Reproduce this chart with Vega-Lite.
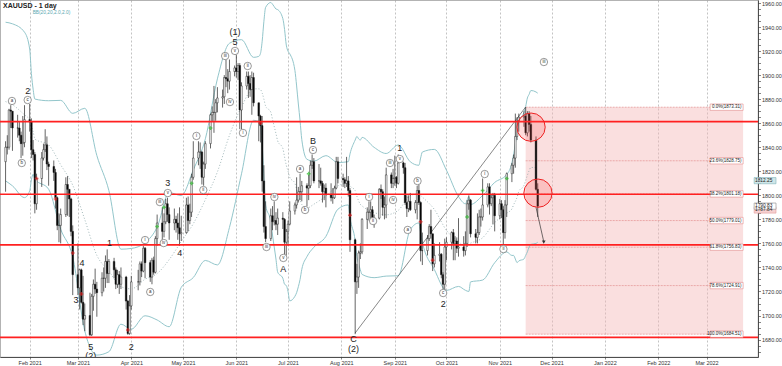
{
"$schema":"https://vega.github.io/schema/vega-lite/v6.json",
"width":758,"height":357,
"autosize":{"type":"none"},
"padding":{"left":0,"top":0,"right":24,"bottom":9},
"background":"white",
"title":{"text":"XAUUSD - 1 day","anchor":"start","frame":"group","offset":-9,"dx":3,"fontSize":7,"fontWeight":"bold","font":"Liberation Sans","color":"#222"},
"config":{"view":{"stroke":"#888","strokeWidth":0.8},"font":"Liberation Sans",
 "axisY":{"labelFontSize":5.5,"labelColor":"#333","labelFont":"Liberation Sans","labelPadding":1,"tickColor":"#333","tickWidth":0.6,"tickSize":2.5,"domainColor":"#333","domainWidth":0.8,"grid":false,"labelOverlap":false,"title":null},
 "axisX":{"labelFontSize":5.5,"labelColor":"#333","labelFont":"Liberation Sans","labelPadding":1,"labelOverlap":false,"labelFlush":false,"tickSize":2,"tickColor":"#333","tickWidth":0.6,"domainColor":"#333","domainWidth":0.8,"grid":false,"title":null}},
"datasets":{
"candles":[
{"d":"2021-01-18","o":1828,"h":1845,"l":1803,"c":1840},
{"d":"2021-01-19","o":1840,"h":1850,"l":1834,"c":1840},
{"d":"2021-01-20","o":1840,"h":1872,"l":1838,"c":1871},
{"d":"2021-01-21","o":1871,"h":1875,"l":1856,"c":1870},
{"d":"2021-01-22","o":1870,"h":1870,"l":1837,"c":1856},
{"d":"2021-01-25","o":1856,"h":1867,"l":1848,"c":1856},
{"d":"2021-01-26","o":1856,"h":1861,"l":1845,"c":1850},
{"d":"2021-01-27","o":1850,"h":1853,"l":1831,"c":1843},
{"d":"2021-01-28","o":1843,"h":1866,"l":1833,"c":1844},
{"d":"2021-01-29","o":1844,"h":1875,"l":1840,"c":1863},
{"d":"2021-02-01","o":1863,"h":1876,"l":1853,"c":1861},
{"d":"2021-02-02","o":1861,"h":1864,"l":1831,"c":1838},
{"d":"2021-02-03","o":1838,"h":1846,"l":1829,"c":1834},
{"d":"2021-02-04","o":1834,"h":1836,"l":1785,"c":1793},
{"d":"2021-02-05","o":1793,"h":1818,"l":1788,"c":1814},
{"d":"2021-02-08","o":1814,"h":1836,"l":1807,"c":1831},
{"d":"2021-02-09","o":1831,"h":1843,"l":1829,"c":1838},
{"d":"2021-02-10","o":1838,"h":1855,"l":1836,"c":1842},
{"d":"2021-02-11","o":1842,"h":1849,"l":1821,"c":1826},
{"d":"2021-02-12","o":1826,"h":1828,"l":1808,"c":1824},
{"d":"2021-02-15","o":1824,"h":1829,"l":1812,"c":1819},
{"d":"2021-02-16","o":1819,"h":1822,"l":1789,"c":1798},
{"d":"2021-02-17","o":1798,"h":1799,"l":1771,"c":1775},
{"d":"2021-02-18","o":1775,"h":1785,"l":1761,"c":1775},
{"d":"2021-02-19","o":1775,"h":1789,"l":1760,"c":1784},
{"d":"2021-02-22","o":1784,"h":1815,"l":1782,"c":1809},
{"d":"2021-02-23","o":1809,"h":1816,"l":1783,"c":1805},
{"d":"2021-02-24","o":1805,"h":1805,"l":1782,"c":1797},
{"d":"2021-02-25","o":1797,"h":1798,"l":1766,"c":1770},
{"d":"2021-02-26","o":1770,"h":1775,"l":1717,"c":1734},
{"d":"2021-03-01","o":1734,"h":1760,"l":1717,"c":1723},
{"d":"2021-03-02","o":1723,"h":1739,"l":1705,"c":1738},
{"d":"2021-03-03","o":1738,"h":1739,"l":1710,"c":1711},
{"d":"2021-03-04","o":1711,"h":1733,"l":1692,"c":1697},
{"d":"2021-03-05","o":1697,"h":1710,"l":1687,"c":1700},
{"d":"2021-03-08","o":1700,"h":1719,"l":1683,"c":1684},
{"d":"2021-03-09","o":1684,"h":1718,"l":1683,"c":1716},
{"d":"2021-03-10","o":1716,"h":1730,"l":1704,"c":1726},
{"d":"2021-03-11","o":1726,"h":1739,"l":1718,"c":1722},
{"d":"2021-03-12","o":1722,"h":1728,"l":1699,"c":1719},
{"d":"2021-03-15","o":1719,"h":1736,"l":1716,"c":1731},
{"d":"2021-03-16","o":1731,"h":1740,"l":1720,"c":1731},
{"d":"2021-03-17","o":1731,"h":1750,"l":1723,"c":1745},
{"d":"2021-03-18","o":1745,"h":1755,"l":1727,"c":1735},
{"d":"2021-03-19","o":1735,"h":1747,"l":1727,"c":1745},
{"d":"2021-03-22","o":1745,"h":1748,"l":1731,"c":1738},
{"d":"2021-03-23","o":1738,"h":1740,"l":1722,"c":1726},
{"d":"2021-03-24","o":1726,"h":1738,"l":1723,"c":1734},
{"d":"2021-03-25","o":1734,"h":1737,"l":1718,"c":1726},
{"d":"2021-03-26","o":1726,"h":1740,"l":1722,"c":1732},
{"d":"2021-03-29","o":1732,"h":1733,"l":1705,"c":1712},
{"d":"2021-03-30","o":1712,"h":1713,"l":1684,"c":1685},
{"d":"2021-03-31","o":1685,"h":1717,"l":1684,"c":1708},
{"d":"2021-04-01","o":1708,"h":1733,"l":1705,"c":1728},
{"d":"2021-04-05","o":1728,"h":1738,"l":1721,"c":1728},
{"d":"2021-04-06","o":1728,"h":1745,"l":1725,"c":1743},
{"d":"2021-04-07","o":1743,"h":1745,"l":1732,"c":1737},
{"d":"2021-04-08","o":1737,"h":1758,"l":1736,"c":1756},
{"d":"2021-04-09","o":1756,"h":1757,"l":1731,"c":1744},
{"d":"2021-04-12","o":1744,"h":1746,"l":1728,"c":1732},
{"d":"2021-04-13","o":1732,"h":1748,"l":1726,"c":1746},
{"d":"2021-04-14","o":1746,"h":1749,"l":1734,"c":1736},
{"d":"2021-04-15","o":1736,"h":1766,"l":1735,"c":1764},
{"d":"2021-04-16","o":1764,"h":1784,"l":1758,"c":1777},
{"d":"2021-04-19","o":1777,"h":1790,"l":1763,"c":1770},
{"d":"2021-04-20","o":1770,"h":1785,"l":1765,"c":1778},
{"d":"2021-04-21","o":1778,"h":1797,"l":1776,"c":1793},
{"d":"2021-04-22","o":1793,"h":1798,"l":1778,"c":1784},
{"d":"2021-04-23","o":1784,"h":1790,"l":1763,"c":1777},
{"d":"2021-04-26","o":1777,"h":1789,"l":1771,"c":1780},
{"d":"2021-04-27","o":1780,"h":1783,"l":1769,"c":1777},
{"d":"2021-04-28","o":1777,"h":1785,"l":1763,"c":1773},
{"d":"2021-04-29","o":1773,"h":1790,"l":1758,"c":1768},
{"d":"2021-04-30","o":1768,"h":1783,"l":1762,"c":1769},
{"d":"2021-05-03","o":1769,"h":1798,"l":1768,"c":1792},
{"d":"2021-05-04","o":1792,"h":1799,"l":1770,"c":1779},
{"d":"2021-05-05","o":1779,"h":1793,"l":1776,"c":1786},
{"d":"2021-05-06","o":1786,"h":1818,"l":1782,"c":1815},
{"d":"2021-05-07","o":1815,"h":1845,"l":1813,"c":1831},
{"d":"2021-05-10","o":1831,"h":1845,"l":1825,"c":1836},
{"d":"2021-05-11","o":1836,"h":1844,"l":1822,"c":1836},
{"d":"2021-05-12","o":1836,"h":1837,"l":1809,"c":1815},
{"d":"2021-05-13","o":1815,"h":1828,"l":1808,"c":1826},
{"d":"2021-05-14","o":1826,"h":1845,"l":1822,"c":1843},
{"d":"2021-05-17","o":1843,"h":1868,"l":1839,"c":1867},
{"d":"2021-05-18","o":1867,"h":1874,"l":1861,"c":1869},
{"d":"2021-05-19","o":1869,"h":1891,"l":1852,"c":1869},
{"d":"2021-05-20","o":1869,"h":1880,"l":1862,"c":1877},
{"d":"2021-05-21","o":1877,"h":1890,"l":1869,"c":1881},
{"d":"2021-05-24","o":1881,"h":1888,"l":1873,"c":1882},
{"d":"2021-05-25","o":1882,"h":1900,"l":1876,"c":1898},
{"d":"2021-05-26","o":1898,"h":1913,"l":1890,"c":1897},
{"d":"2021-05-27","o":1897,"h":1905,"l":1885,"c":1895},
{"d":"2021-05-28","o":1895,"h":1913,"l":1888,"c":1903},
{"d":"2021-05-31","o":1903,"h":1908,"l":1899,"c":1906},
{"d":"2021-06-01","o":1906,"h":1917,"l":1898,"c":1903},
{"d":"2021-06-02","o":1903,"h":1910,"l":1896,"c":1908},
{"d":"2021-06-03","o":1908,"h":1910,"l":1855,"c":1871},
{"d":"2021-06-04","o":1871,"h":1894,"l":1855,"c":1891},
{"d":"2021-06-07","o":1891,"h":1903,"l":1888,"c":1899},
{"d":"2021-06-08","o":1899,"h":1903,"l":1881,"c":1893},
{"d":"2021-06-09","o":1893,"h":1900,"l":1882,"c":1888},
{"d":"2021-06-10","o":1888,"h":1903,"l":1867,"c":1898},
{"d":"2021-06-11","o":1898,"h":1902,"l":1874,"c":1877},
{"d":"2021-06-14","o":1877,"h":1877,"l":1845,"c":1866},
{"d":"2021-06-15","o":1866,"h":1867,"l":1844,"c":1858},
{"d":"2021-06-16","o":1858,"h":1866,"l":1803,"c":1812},
{"d":"2021-06-17","o":1812,"h":1825,"l":1769,"c":1774},
{"d":"2021-06-18","o":1774,"h":1795,"l":1761,"c":1764},
{"d":"2021-06-21","o":1764,"h":1789,"l":1762,"c":1783},
{"d":"2021-06-22","o":1783,"h":1791,"l":1771,"c":1778},
{"d":"2021-06-23","o":1778,"h":1795,"l":1775,"c":1779},
{"d":"2021-06-24","o":1779,"h":1786,"l":1771,"c":1776},
{"d":"2021-06-25","o":1776,"h":1789,"l":1767,"c":1781},
{"d":"2021-06-28","o":1781,"h":1786,"l":1772,"c":1780},
{"d":"2021-06-29","o":1780,"h":1781,"l":1751,"c":1761},
{"d":"2021-06-30","o":1761,"h":1772,"l":1750,"c":1770},
{"d":"2021-07-01","o":1770,"h":1779,"l":1758,"c":1776},
{"d":"2021-07-02","o":1776,"h":1795,"l":1775,"c":1787},
{"d":"2021-07-05","o":1787,"h":1794,"l":1784,"c":1792},
{"d":"2021-07-06","o":1792,"h":1815,"l":1789,"c":1796},
{"d":"2021-07-07","o":1796,"h":1807,"l":1794,"c":1803},
{"d":"2021-07-08","o":1803,"h":1818,"l":1796,"c":1803},
{"d":"2021-07-09","o":1803,"h":1812,"l":1795,"c":1808},
{"d":"2021-07-12","o":1808,"h":1810,"l":1791,"c":1806},
{"d":"2021-07-13","o":1806,"h":1817,"l":1796,"c":1808},
{"d":"2021-07-14","o":1808,"h":1829,"l":1806,"c":1825},
{"d":"2021-07-15","o":1825,"h":1834,"l":1822,"c":1828},
{"d":"2021-07-16","o":1828,"h":1831,"l":1810,"c":1812},
{"d":"2021-07-19","o":1812,"h":1826,"l":1806,"c":1812},
{"d":"2021-07-20","o":1812,"h":1823,"l":1808,"c":1810},
{"d":"2021-07-21","o":1810,"h":1812,"l":1794,"c":1803},
{"d":"2021-07-22","o":1803,"h":1809,"l":1796,"c":1806},
{"d":"2021-07-23","o":1806,"h":1810,"l":1790,"c":1801},
{"d":"2021-07-26","o":1801,"h":1810,"l":1795,"c":1798},
{"d":"2021-07-27","o":1798,"h":1806,"l":1793,"c":1798},
{"d":"2021-07-28","o":1798,"h":1808,"l":1797,"c":1806},
{"d":"2021-07-29","o":1806,"h":1832,"l":1805,"c":1828},
{"d":"2021-07-30","o":1828,"h":1832,"l":1810,"c":1814},
{"d":"2021-08-02","o":1814,"h":1818,"l":1807,"c":1813},
{"d":"2021-08-03","o":1813,"h":1815,"l":1806,"c":1810},
{"d":"2021-08-04","o":1810,"h":1832,"l":1807,"c":1812},
{"d":"2021-08-05","o":1812,"h":1816,"l":1799,"c":1804},
{"d":"2021-08-06","o":1804,"h":1806,"l":1753,"c":1763},
{"d":"2021-08-09","o":1763,"h":1764,"l":1684.5,"c":1728},
{"d":"2021-08-10","o":1728,"h":1743,"l":1718,"c":1732},
{"d":"2021-08-11","o":1732,"h":1754,"l":1723,"c":1752},
{"d":"2021-08-12","o":1752,"h":1760,"l":1747,"c":1753},
{"d":"2021-08-13","o":1753,"h":1781,"l":1751,"c":1780},
{"d":"2021-08-16","o":1780,"h":1790,"l":1772,"c":1786},
{"d":"2021-08-17","o":1786,"h":1795,"l":1779,"c":1786},
{"d":"2021-08-18","o":1786,"h":1795,"l":1780,"c":1788},
{"d":"2021-08-19","o":1788,"h":1791,"l":1776,"c":1781},
{"d":"2021-08-20","o":1781,"h":1784,"l":1773,"c":1781},
{"d":"2021-08-23","o":1781,"h":1806,"l":1780,"c":1805},
{"d":"2021-08-24","o":1805,"h":1809,"l":1797,"c":1803},
{"d":"2021-08-25","o":1803,"h":1805,"l":1783,"c":1790},
{"d":"2021-08-26","o":1790,"h":1799,"l":1780,"c":1792},
{"d":"2021-08-27","o":1792,"h":1823,"l":1781,"c":1817},
{"d":"2021-08-30","o":1817,"h":1819,"l":1806,"c":1810},
{"d":"2021-08-31","o":1810,"h":1822,"l":1806,"c":1814},
{"d":"2021-09-01","o":1814,"h":1833,"l":1808,"c":1815},
{"d":"2021-09-02","o":1815,"h":1816,"l":1806,"c":1810},
{"d":"2021-09-03","o":1810,"h":1834,"l":1809,"c":1827},
{"d":"2021-09-06","o":1827,"h":1828,"l":1818,"c":1823},
{"d":"2021-09-07","o":1823,"h":1827,"l":1792,"c":1794},
{"d":"2021-09-08","o":1794,"h":1800,"l":1782,"c":1789},
{"d":"2021-09-09","o":1789,"h":1800,"l":1786,"c":1795},
{"d":"2021-09-10","o":1795,"h":1802,"l":1787,"c":1788},
{"d":"2021-09-13","o":1788,"h":1796,"l":1785,"c":1794},
{"d":"2021-09-14","o":1794,"h":1808,"l":1780,"c":1804},
{"d":"2021-09-15","o":1804,"h":1809,"l":1792,"c":1794},
{"d":"2021-09-16","o":1794,"h":1795,"l":1745,"c":1754},
{"d":"2021-09-17","o":1754,"h":1769,"l":1742,"c":1754},
{"d":"2021-09-20","o":1754,"h":1767,"l":1750,"c":1764},
{"d":"2021-09-21","o":1764,"h":1776,"l":1762,"c":1774},
{"d":"2021-09-22","o":1774,"h":1788,"l":1764,"c":1768},
{"d":"2021-09-23","o":1768,"h":1768,"l":1737,"c":1743},
{"d":"2021-09-24","o":1743,"h":1760,"l":1740,"c":1750},
{"d":"2021-09-27","o":1750,"h":1761,"l":1745,"c":1751},
{"d":"2021-09-28","o":1751,"h":1752,"l":1731,"c":1734},
{"d":"2021-09-29","o":1734,"h":1736,"l":1722,"c":1726},
{"d":"2021-09-30","o":1726,"h":1764,"l":1721,"c":1757},
{"d":"2021-10-01","o":1757,"h":1765,"l":1746,"c":1761},
{"d":"2021-10-04","o":1761,"h":1770,"l":1755,"c":1769},
{"d":"2021-10-05","o":1769,"h":1772,"l":1746,"c":1760},
{"d":"2021-10-06","o":1760,"h":1766,"l":1746,"c":1762},
{"d":"2021-10-07","o":1762,"h":1765,"l":1752,"c":1756},
{"d":"2021-10-08","o":1756,"h":1781,"l":1749,"c":1757},
{"d":"2021-10-11","o":1757,"h":1766,"l":1749,"c":1754},
{"d":"2021-10-12","o":1754,"h":1770,"l":1750,"c":1760},
{"d":"2021-10-13","o":1760,"h":1796,"l":1757,"c":1793},
{"d":"2021-10-14","o":1793,"h":1800,"l":1788,"c":1796},
{"d":"2021-10-15","o":1796,"h":1797,"l":1765,"c":1768},
{"d":"2021-10-18","o":1768,"h":1772,"l":1760,"c":1765},
{"d":"2021-10-19","o":1765,"h":1785,"l":1760,"c":1769},
{"d":"2021-10-20","o":1769,"h":1788,"l":1767,"c":1782},
{"d":"2021-10-21","o":1782,"h":1789,"l":1774,"c":1782},
{"d":"2021-10-22","o":1782,"h":1814,"l":1779,"c":1792},
{"d":"2021-10-25","o":1792,"h":1810,"l":1790,"c":1807},
{"d":"2021-10-26","o":1807,"h":1810,"l":1784,"c":1793},
{"d":"2021-10-27","o":1793,"h":1801,"l":1791,"c":1798},
{"d":"2021-10-28","o":1798,"h":1802,"l":1776,"c":1800},
{"d":"2021-10-29","o":1800,"h":1802,"l":1770,"c":1783},
{"d":"2021-11-01","o":1783,"h":1797,"l":1780,"c":1793},
{"d":"2021-11-02","o":1793,"h":1796,"l":1781,"c":1788},
{"d":"2021-11-03","o":1788,"h":1791,"l":1759,"c":1769},
{"d":"2021-11-04","o":1769,"h":1796,"l":1764,"c":1792},
{"d":"2021-11-05","o":1792,"h":1819,"l":1782,"c":1818},
{"d":"2021-11-08","o":1818,"h":1827,"l":1811,"c":1825},
{"d":"2021-11-09","o":1825,"h":1834,"l":1818,"c":1831},
{"d":"2021-11-10","o":1831,"h":1868,"l":1823,"c":1849},
{"d":"2021-11-11","o":1849,"h":1865,"l":1846,"c":1862},
{"d":"2021-11-12","o":1862,"h":1868,"l":1853,"c":1865},
{"d":"2021-11-15","o":1865,"h":1870,"l":1857,"c":1866},
{"d":"2021-11-16","o":1866,"h":1873.3,"l":1850,"c":1852},
{"d":"2021-11-17","o":1852,"h":1870,"l":1849,"c":1868},
{"d":"2021-11-18","o":1868,"h":1870,"l":1853,"c":1859},
{"d":"2021-11-19","o":1859,"h":1866,"l":1844,"c":1846},
{"d":"2021-11-22","o":1846,"h":1849,"l":1804,"c":1805},
{"d":"2021-11-23","o":1805,"h":1810,"l":1782,"c":1791}
],
"bb":[
{"d":"2021-01-18","up":1944,"mid":1878,"lo":1812},
{"d":"2021-01-22","up":1942.7,"mid":1875.3,"lo":1807.9},
{"d":"2021-01-29","up":1935.7,"mid":1866.9,"lo":1798.1},
{"d":"2021-02-01","up":1921.7,"mid":1862.7,"lo":1803.7},
{"d":"2021-02-02","up":1901.3,"mid":1857.1,"lo":1812.9},
{"d":"2021-02-03","up":1888.3,"mid":1852.9,"lo":1817.5},
{"d":"2021-02-04","up":1880.1,"mid":1846.9,"lo":1813.7},
{"d":"2021-02-12","up":1878.7,"mid":1841.9,"lo":1805.1},
{"d":"2021-02-19","up":1879,"mid":1825.4,"lo":1771.8},
{"d":"2021-02-26","up":1868.2,"mid":1808.4,"lo":1748.6},
{"d":"2021-03-05","up":1872.4,"mid":1779.8,"lo":1687.2},
{"d":"2021-03-12","up":1833.1,"mid":1750.1,"lo":1667.1},
{"d":"2021-03-19","up":1803.9,"mid":1736.9,"lo":1669.9},
{"d":"2021-03-26","up":1755.2,"mid":1724,"lo":1692.8},
{"d":"2021-04-01","up":1755.8,"mid":1722.2,"lo":1688.6},
{"d":"2021-04-09","up":1760.6,"mid":1730.2,"lo":1699.8},
{"d":"2021-04-16","up":1773.5,"mid":1734.9,"lo":1696.3},
{"d":"2021-04-23","up":1802.3,"mid":1746.5,"lo":1690.7},
{"d":"2021-04-30","up":1799.8,"mid":1761.6,"lo":1723.4},
{"d":"2021-05-07","up":1821.2,"mid":1776.4,"lo":1731.6},
{"d":"2021-05-14","up":1847,"mid":1796.4,"lo":1745.8},
{"d":"2021-05-21","up":1896.9,"mid":1819.5,"lo":1742.1},
{"d":"2021-05-28","up":1926.5,"mid":1849.9,"lo":1773.3},
{"d":"2021-06-04","up":1929.5,"mid":1873.7,"lo":1817.9},
{"d":"2021-06-11","up":1914.8,"mid":1888.6,"lo":1862.4},
{"d":"2021-06-14","up":1915.6,"mid":1888.6,"lo":1861.6},
{"d":"2021-06-15","up":1918,"mid":1888,"lo":1858},
{"d":"2021-06-16","up":1928.2,"mid":1885.2,"lo":1842.2},
{"d":"2021-06-17","up":1944.8,"mid":1880,"lo":1815.2},
{"d":"2021-06-18","up":1956.4,"mid":1874.2,"lo":1792},
{"d":"2021-06-21","up":1960.4,"mid":1869.2,"lo":1778},
{"d":"2021-06-22","up":1959,"mid":1863.2,"lo":1767},
{"d":"2021-06-23","up":1957,"mid":1857.3,"lo":1757},
{"d":"2021-06-24","up":1955,"mid":1851.4,"lo":1747},
{"d":"2021-06-25","up":1954.5,"mid":1845.3,"lo":1736.1},
{"d":"2021-06-28","up":1947,"mid":1839,"lo":1731},
{"d":"2021-06-29","up":1938,"mid":1831.9,"lo":1726},
{"d":"2021-06-30","up":1925,"mid":1825,"lo":1725},
{"d":"2021-07-01","up":1920,"mid":1820.2,"lo":1720},
{"d":"2021-07-02","up":1917.8,"mid":1815,"lo":1712.2},
{"d":"2021-07-05","up":1904,"mid":1810,"lo":1716},
{"d":"2021-07-06","up":1891,"mid":1805,"lo":1719},
{"d":"2021-07-07","up":1876,"mid":1800.4,"lo":1724},
{"d":"2021-07-08","up":1862,"mid":1796.2,"lo":1730},
{"d":"2021-07-09","up":1846.4,"mid":1792.4,"lo":1738.4},
{"d":"2021-07-12","up":1830,"mid":1789.4,"lo":1749},
{"d":"2021-07-16","up":1828.4,"mid":1792.6,"lo":1756.8},
{"d":"2021-07-23","up":1833,"mid":1799.4,"lo":1765.8},
{"d":"2021-07-30","up":1827.3,"mid":1807.9,"lo":1788.5},
{"d":"2021-08-05","up":1828,"mid":1810.1,"lo":1792},
{"d":"2021-08-06","up":1834.5,"mid":1807.9,"lo":1781.3},
{"d":"2021-08-09","up":1846,"mid":1803.9,"lo":1762},
{"d":"2021-08-10","up":1849,"mid":1799.2,"lo":1749},
{"d":"2021-08-11","up":1847,"mid":1795.4,"lo":1743},
{"d":"2021-08-12","up":1846,"mid":1792.5,"lo":1738},
{"d":"2021-08-13","up":1848.2,"mid":1791.2,"lo":1734.2},
{"d":"2021-08-20","up":1839.9,"mid":1785.7,"lo":1731.5},
{"d":"2021-08-27","up":1834.8,"mid":1783.8,"lo":1732.8},
{"d":"2021-09-03","up":1841.9,"mid":1787.5,"lo":1733.1},
{"d":"2021-09-10","up":1827.9,"mid":1799.7,"lo":1771.5},
{"d":"2021-09-15","up":1825,"mid":1801.3,"lo":1777},
{"d":"2021-09-16","up":1831,"mid":1800,"lo":1769},
{"d":"2021-09-17","up":1836,"mid":1798.6,"lo":1761.2},
{"d":"2021-09-24","up":1838.2,"mid":1788.2,"lo":1738.2},
{"d":"2021-10-01","up":1820.9,"mid":1770.9,"lo":1720.9},
{"d":"2021-10-08","up":1799,"mid":1761.6,"lo":1724.2},
{"d":"2021-10-12","up":1793,"mid":1757.4,"lo":1721},
{"d":"2021-10-14","up":1799,"mid":1759.5,"lo":1720},
{"d":"2021-10-15","up":1792.4,"mid":1760.2,"lo":1728},
{"d":"2021-10-22","up":1799.9,"mid":1764.7,"lo":1729.5},
{"d":"2021-10-29","up":1810.7,"mid":1777.3,"lo":1743.9},
{"d":"2021-11-05","up":1817.3,"mid":1785.1,"lo":1752.9},
{"d":"2021-11-08","up":1827,"mid":1788.7,"lo":1750},
{"d":"2021-11-09","up":1834,"mid":1792.2,"lo":1750},
{"d":"2021-11-10","up":1843,"mid":1795,"lo":1747},
{"d":"2021-11-11","up":1852,"mid":1798.3,"lo":1744},
{"d":"2021-11-12","up":1861,"mid":1803.2,"lo":1745.4},
{"d":"2021-11-15","up":1869,"mid":1808.2,"lo":1747},
{"d":"2021-11-16","up":1874,"mid":1812.4,"lo":1750},
{"d":"2021-11-17","up":1881,"mid":1816.7,"lo":1753},
{"d":"2021-11-18","up":1884,"mid":1820.5,"lo":1757},
{"d":"2021-11-19","up":1887.2,"mid":1823.2,"lo":1759.2},
{"d":"2021-11-22","up":1886,"mid":1823.1,"lo":1760},
{"d":"2021-11-23","up":1885,"mid":1823,"lo":1761}
],
"levels":[{"p":1861.3},{"p":1800.9},{"p":1758.7},{"p":1681.9}],
"fib":[
{"p":1873.31,"t":"0.0%(1873.31)"},
{"p":1828.75,"t":"23.6%(1828.75)"},
{"p":1801.18,"t":"38.2%(1801.18)"},
{"p":1779.01,"t":"50.0%(1779.01)"},
{"p":1756.83,"t":"61.8%(1756.83)"},
{"p":1724.91,"t":"78.6%(1724.91)"},
{"p":1684.51,"t":"100.0%(1684.51)"}
],
"zone":[{"top":1873.31,"bottom":1684.51}],
"trend":[{"d":"2021-08-09","p":1685.5},{"d":"2021-11-16","p":1873.5}],
"arrow":[{"d":"2021-11-22T00:00:00Z","p":1790},{"d":"2021-11-26T10:00:00Z","p":1762}],
"arrowhead":[{"d":"2021-11-26T12:00:00Z","p":1761}],
"marks":[
{"d":"2021-02-05","p":1814,"k":"down"},{"d":"2021-02-16","p":1797,"k":"down"},{"d":"2021-02-26","p":1752,"k":"down"},
{"d":"2021-03-03","p":1718,"k":"down"},{"d":"2021-03-30","p":1688,"k":"down"},{"d":"2021-04-16","p":1774,"k":"up"},
{"d":"2021-04-20","p":1790,"k":"up"},{"d":"2021-05-06","p":1810,"k":"up"},{"d":"2021-05-17","p":1856,"k":"up"},
{"d":"2021-06-15","p":1860,"k":"down"},{"d":"2021-07-13","p":1818,"k":"up"},{"d":"2021-08-06","p":1783.5,"k":"down"},
{"d":"2021-09-16","p":1778,"k":"down"},{"d":"2021-09-23","p":1746,"k":"down"},{"d":"2021-10-13","p":1782,"k":"up"},
{"d":"2021-10-22","p":1804,"k":"up"},{"d":"2021-11-05","p":1814,"k":"up"}
],
"rings":[{"d":"2021-11-19T03:00:00Z","p":1856.7},{"d":"2021-11-23T03:00:00Z","p":1801.8}],
"circ":[
{"d":"2021-01-21T17:00:00Z","p":1878.5,"t":"a"},
{"d":"2021-01-30T20:00:00Z","p":1879.3,"t":"c"},
{"d":"2021-01-27T10:00:00Z","p":1826.9,"t":"b"},
{"d":"2021-04-09T00:00:00Z","p":1762.8,"t":"i"},
{"d":"2021-04-12T00:00:00Z","p":1719.6,"t":"a"},
{"d":"2021-04-17T14:00:00Z","p":1794.4,"t":"iii"},
{"d":"2021-04-19T20:00:00Z","p":1760.3,"t":"iv"},
{"d":"2021-04-22T05:00:00Z","p":1801.9,"t":"v"},
{"d":"2021-05-08T20:00:00Z","p":1849.4,"t":"i"},
{"d":"2021-05-12T20:00:00Z","p":1804.4,"t":"ii"},
{"d":"2021-05-25T12:00:00Z","p":1915.9,"t":"iii"},
{"d":"2021-05-28T07:00:00Z","p":1877.6,"t":"iv"},
{"d":"2021-05-31T05:00:00Z","p":1920.1,"t":"v"},
{"d":"2021-06-04T20:00:00Z","p":1851.9,"t":"i"},
{"d":"2021-06-07T14:00:00Z","p":1907.6,"t":"ii"},
{"d":"2021-06-18T12:00:00Z","p":1757,"t":"iii"},
{"d":"2021-06-23T02:00:00Z","p":1798.6,"t":"iv"},
{"d":"2021-06-28T07:00:00Z","p":1747.9,"t":"v"},
{"d":"2021-07-08T00:00:00Z","p":1821.9,"t":"a"},
{"d":"2021-07-10T22:00:00Z","p":1787.8,"t":"b"},
{"d":"2021-07-15T12:00:00Z","p":1837.7,"t":"c"},
{"d":"2021-08-17T02:00:00Z","p":1798.6,"t":"i"},
{"d":"2021-08-19T10:00:00Z","p":1778.6,"t":"ii"},
{"d":"2021-08-29T05:00:00Z","p":1826.9,"t":"iii"},
{"d":"2021-08-31T00:00:00Z","p":1796.1,"t":"iv"},
{"d":"2021-09-03T22:00:00Z","p":1830.2,"t":"v"},
{"d":"2021-09-08T12:00:00Z","p":1771.2,"t":"a"},
{"d":"2021-09-14T05:00:00Z","p":1811.9,"t":"b"},
{"d":"2021-09-29T02:00:00Z","p":1718.7,"t":"c"},
{"d":"2021-10-23T05:00:00Z","p":1817.7,"t":"i"},
{"d":"2021-11-03T02:00:00Z","p":1755.3,"t":"ii"},
{"d":"2021-11-26T14:00:00Z","p":1910.9,"t":"iii"}
],
"plain":[
{"d":"2021-01-30T20:00:00Z","p":1886.8,"t":"2"},
{"d":"2021-02-27T22:00:00Z","p":1712.9,"t":"3"},
{"d":"2021-03-03T10:00:00Z","p":1743.7,"t":"4"},
{"d":"2021-03-08T12:00:00Z","p":1674,"t":"5"},
{"d":"2021-03-08T12:00:00Z","p":1666.5,"t":"(2)"},
{"d":"2021-03-19T10:00:00Z","p":1760.3,"t":"1"},
{"d":"2021-04-01T00:00:00Z","p":1673.8,"t":"2"},
{"d":"2021-04-22T05:00:00Z","p":1810.3,"t":"3"},
{"d":"2021-04-29T02:00:00Z","p":1752,"t":"4"},
{"d":"2021-05-31T05:00:00Z","p":1927.6,"t":"5"},
{"d":"2021-05-31T05:00:00Z","p":1935.9,"t":"(1)"},
{"d":"2021-06-28T07:00:00Z","p":1738.7,"t":"A"},
{"d":"2021-07-15T12:00:00Z","p":1845.2,"t":"B"},
{"d":"2021-08-08T00:00:00Z","p":1680.5,"t":"C"},
{"d":"2021-08-08T00:00:00Z","p":1672.1,"t":"(2)"},
{"d":"2021-09-03T22:00:00Z","p":1839.4,"t":"1"},
{"d":"2021-09-29T02:00:00Z","p":1709.6,"t":"2"}
],
"bblabel":[{"d":"2021-02-02T17:00:00Z","p":1951.7,"t":"BB(20,20,2.0,2.0)"}],
"tags":[
{"p":1812.2,"t":"1812.25","k":"teal"},
{"p":1787.8,"t":"1787.84","k":"pink"},
{"p":1791.0,"t":"1790.83","k":"white"}
]
},
"layer":[
{"data":{"name":"zone"},"mark":{"type":"rect","color":"#f3b9b9","opacity":0.45},
 "encoding":{
  "x":{"datum":{"year":2021,"month":11,"date":16,"utc":true},"type":"temporal","title":null,
   "scale":{"type":"utc","domain":[{"year":2021,"month":1,"date":17,"hours":16,"utc":true},{"year":2022,"month":3,"date":28,"utc":true}]},
   "axis":{"values":[{"year":2021,"month":2,"date":1,"utc":true},{"year":2021,"month":3,"date":1,"utc":true},{"year":2021,"month":4,"date":1,"utc":true},{"year":2021,"month":5,"date":1,"utc":true},{"year":2021,"month":6,"date":1,"utc":true},{"year":2021,"month":7,"date":1,"utc":true},{"year":2021,"month":8,"date":1,"utc":true},{"year":2021,"month":9,"date":1,"utc":true},{"year":2021,"month":10,"date":1,"utc":true},{"year":2021,"month":11,"date":1,"utc":true},{"year":2021,"month":12,"date":1,"utc":true},{"year":2022,"month":1,"date":1,"utc":true},{"year":2022,"month":2,"date":1,"utc":true},{"year":2022,"month":3,"date":1,"utc":true}],
    "format":"%b %Y","grid":true,"gridDash":[2,2],"gridColor":"#9a9a9a","gridWidth":0.6}},
  "x2":{"datum":{"year":2022,"month":3,"date":22,"hours":6,"utc":true}},
  "y":{"field":"top","type":"quantitative","title":null,
   "scale":{"domain":[1665.5,1962.5],"nice":false,"zero":false},
   "axis":{"orient":"right","values":[1670,1675,1680,1685,1690,1695,1700,1705,1710,1715,1720,1725,1730,1735,1740,1745,1750,1755,1760,1765,1770,1775,1780,1785,1790,1795,1800,1805,1810,1815,1820,1825,1830,1835,1840,1845,1850,1855,1860,1865,1870,1875,1880,1885,1890,1895,1900,1905,1910,1915,1920,1925,1930,1935,1940,1945,1950,1955,1960],"labelExpr":"datum.value % 20 === 0 ? format(datum.value, '.2f') : ''"}},
  "y2":{"field":"bottom"}}},
{"mark":{"type":"rect","color":"#ee2a2a"},
 "encoding":{"x":{"datum":{"year":2022,"month":2,"date":28,"utc":true},"type":"temporal","title":null},"x2":{"datum":{"year":2022,"month":3,"date":28,"utc":true}},"y":{"datum":1962.5,"type":"quantitative","title":null,"axis":{"orient":"right","values":[1670,1675,1680,1685,1690,1695,1700,1705,1710,1715,1720,1725,1730,1735,1740,1745,1750,1755,1760,1765,1770,1775,1780,1785,1790,1795,1800,1805,1810,1815,1820,1825,1830,1835,1840,1845,1850,1855,1860,1865,1870,1875,1880,1885,1890,1895,1900,1905,1910,1915,1920,1925,1930,1935,1940,1945,1950,1955,1960],"labelExpr":"datum.value % 20 === 0 ? format(datum.value, '.2f') : ''"}},"y2":{"datum":1921.7}}},
{"mark":{"type":"text","text":"FxPro","font":"Liberation Serif","fontSize":14,"color":"#ffffff","align":"center","baseline":"middle"},
 "encoding":{"x":{"datum":{"year":2022,"month":3,"date":13,"hours":16,"utc":true},"type":"temporal","title":null},"y":{"datum":1944,"type":"quantitative","title":null,"axis":{"orient":"right","values":[1670,1675,1680,1685,1690,1695,1700,1705,1710,1715,1720,1725,1730,1735,1740,1745,1750,1755,1760,1765,1770,1775,1780,1785,1790,1795,1800,1805,1810,1815,1820,1825,1830,1835,1840,1845,1850,1855,1860,1865,1870,1875,1880,1885,1890,1895,1900,1905,1910,1915,1920,1925,1930,1935,1940,1945,1950,1955,1960],"labelExpr":"datum.value % 20 === 0 ? format(datum.value, '.2f') : ''"}}}},
{"mark":{"type":"text","text":"Trade Like a Pro","font":"Liberation Sans","fontSize":4.6,"color":"#ffffff","align":"center","baseline":"middle"},
 "encoding":{"x":{"datum":{"year":2022,"month":3,"date":13,"hours":16,"utc":true},"type":"temporal","title":null},"y":{"datum":1936.5,"type":"quantitative","title":null,"axis":{"orient":"right","values":[1670,1675,1680,1685,1690,1695,1700,1705,1710,1715,1720,1725,1730,1735,1740,1745,1750,1755,1760,1765,1770,1775,1780,1785,1790,1795,1800,1805,1810,1815,1820,1825,1830,1835,1840,1845,1850,1855,1860,1865,1870,1875,1880,1885,1890,1895,1900,1905,1910,1915,1920,1925,1930,1935,1940,1945,1950,1955,1960],"labelExpr":"datum.value % 20 === 0 ? format(datum.value, '.2f') : ''"}}}},
{"data":{"name":"fib"},"mark":{"type":"rule","color":"#e69a9a","strokeDash":[2,1],"strokeWidth":0.8},
 "encoding":{"x":{"datum":{"year":2021,"month":11,"date":16,"utc":true},"type":"temporal","title":null},"x2":{"datum":{"year":2022,"month":3,"date":22,"hours":6,"utc":true}},"y":{"field":"p","type":"quantitative","title":null,"axis":{"orient":"right","values":[1670,1675,1680,1685,1690,1695,1700,1705,1710,1715,1720,1725,1730,1735,1740,1745,1750,1755,1760,1765,1770,1775,1780,1785,1790,1795,1800,1805,1810,1815,1820,1825,1830,1835,1840,1845,1850,1855,1860,1865,1870,1875,1880,1885,1890,1895,1900,1905,1910,1915,1920,1925,1930,1935,1940,1945,1950,1955,1960],"labelExpr":"datum.value % 20 === 0 ? format(datum.value, '.2f') : ''"}}}},
{"data":{"name":"bb"},"mark":{"type":"line","color":"#93c6cb","strokeWidth":1,"interpolate":"monotone","clip":true},
 "encoding":{"x":{"field":"d","type":"temporal","title":null},"y":{"field":"up","type":"quantitative","title":null,"axis":{"orient":"right","values":[1670,1675,1680,1685,1690,1695,1700,1705,1710,1715,1720,1725,1730,1735,1740,1745,1750,1755,1760,1765,1770,1775,1780,1785,1790,1795,1800,1805,1810,1815,1820,1825,1830,1835,1840,1845,1850,1855,1860,1865,1870,1875,1880,1885,1890,1895,1900,1905,1910,1915,1920,1925,1930,1935,1940,1945,1950,1955,1960],"labelExpr":"datum.value % 20 === 0 ? format(datum.value, '.2f') : ''"}}}},
{"data":{"name":"bb"},"mark":{"type":"line","color":"#93c6cb","strokeWidth":1,"interpolate":"monotone","clip":true},
 "encoding":{"x":{"field":"d","type":"temporal","title":null},"y":{"field":"lo","type":"quantitative","title":null,"axis":{"orient":"right","values":[1670,1675,1680,1685,1690,1695,1700,1705,1710,1715,1720,1725,1730,1735,1740,1745,1750,1755,1760,1765,1770,1775,1780,1785,1790,1795,1800,1805,1810,1815,1820,1825,1830,1835,1840,1845,1850,1855,1860,1865,1870,1875,1880,1885,1890,1895,1900,1905,1910,1915,1920,1925,1930,1935,1940,1945,1950,1955,1960],"labelExpr":"datum.value % 20 === 0 ? format(datum.value, '.2f') : ''"}}}},
{"data":{"name":"bb"},"mark":{"type":"line","color":"#8aa6a8","strokeWidth":0.8,"strokeDash":[1,2],"interpolate":"monotone","clip":true},
 "encoding":{"x":{"field":"d","type":"temporal","title":null},"y":{"field":"mid","type":"quantitative","title":null,"axis":{"orient":"right","values":[1670,1675,1680,1685,1690,1695,1700,1705,1710,1715,1720,1725,1730,1735,1740,1745,1750,1755,1760,1765,1770,1775,1780,1785,1790,1795,1800,1805,1810,1815,1820,1825,1830,1835,1840,1845,1850,1855,1860,1865,1870,1875,1880,1885,1890,1895,1900,1905,1910,1915,1920,1925,1930,1935,1940,1945,1950,1955,1960],"labelExpr":"datum.value % 20 === 0 ? format(datum.value, '.2f') : ''"}}}},
{"data":{"name":"trend"},"mark":{"type":"line","color":"#555","strokeWidth":0.7},
 "encoding":{"x":{"field":"d","type":"temporal","title":null},"y":{"field":"p","type":"quantitative","title":null,"axis":{"orient":"right","values":[1670,1675,1680,1685,1690,1695,1700,1705,1710,1715,1720,1725,1730,1735,1740,1745,1750,1755,1760,1765,1770,1775,1780,1785,1790,1795,1800,1805,1810,1815,1820,1825,1830,1835,1840,1845,1850,1855,1860,1865,1870,1875,1880,1885,1890,1895,1900,1905,1910,1915,1920,1925,1930,1935,1940,1945,1950,1955,1960],"labelExpr":"datum.value % 20 === 0 ? format(datum.value, '.2f') : ''"}}}},
{"data":{"name":"candles"},"mark":{"type":"rule","color":"#222","strokeWidth":0.7},
 "encoding":{"x":{"field":"d","type":"temporal","title":null},"y":{"field":"l","type":"quantitative","title":null,"axis":{"orient":"right","values":[1670,1675,1680,1685,1690,1695,1700,1705,1710,1715,1720,1725,1730,1735,1740,1745,1750,1755,1760,1765,1770,1775,1780,1785,1790,1795,1800,1805,1810,1815,1820,1825,1830,1835,1840,1845,1850,1855,1860,1865,1870,1875,1880,1885,1890,1895,1900,1905,1910,1915,1920,1925,1930,1935,1940,1945,1950,1955,1960],"labelExpr":"datum.value % 20 === 0 ? format(datum.value, '.2f') : ''"}},"y2":{"field":"h"}}},
{"data":{"name":"candles"},"mark":{"type":"bar","size":1.6,"stroke":"#222","strokeWidth":0.5},
 "encoding":{"x":{"field":"d","type":"temporal","title":null},"y":{"field":"o","type":"quantitative","title":null,"axis":{"orient":"right","values":[1670,1675,1680,1685,1690,1695,1700,1705,1710,1715,1720,1725,1730,1735,1740,1745,1750,1755,1760,1765,1770,1775,1780,1785,1790,1795,1800,1805,1810,1815,1820,1825,1830,1835,1840,1845,1850,1855,1860,1865,1870,1875,1880,1885,1890,1895,1900,1905,1910,1915,1920,1925,1930,1935,1940,1945,1950,1955,1960],"labelExpr":"datum.value % 20 === 0 ? format(datum.value, '.2f') : ''"}},"y2":{"field":"c"},
  "fill":{"condition":{"test":"datum.c >= datum.o","value":"#ffffff"},"value":"#000000"}}},
{"data":{"name":"levels"},"mark":{"type":"rule","color":"#ff2020","strokeWidth":1.7},
 "encoding":{"y":{"field":"p","type":"quantitative","title":null,"axis":{"orient":"right","values":[1670,1675,1680,1685,1690,1695,1700,1705,1710,1715,1720,1725,1730,1735,1740,1745,1750,1755,1760,1765,1770,1775,1780,1785,1790,1795,1800,1805,1810,1815,1820,1825,1830,1835,1840,1845,1850,1855,1860,1865,1870,1875,1880,1885,1890,1895,1900,1905,1910,1915,1920,1925,1930,1935,1940,1945,1950,1955,1960],"labelExpr":"datum.value % 20 === 0 ? format(datum.value, '.2f') : ''"}}}},
{"data":{"name":"marks"},"mark":{"type":"point","shape":"cross","filled":true,"size":14},
 "encoding":{"x":{"field":"d","type":"temporal","title":null},"y":{"field":"p","type":"quantitative","title":null,"axis":{"orient":"right","values":[1670,1675,1680,1685,1690,1695,1700,1705,1710,1715,1720,1725,1730,1735,1740,1745,1750,1755,1760,1765,1770,1775,1780,1785,1790,1795,1800,1805,1810,1815,1820,1825,1830,1835,1840,1845,1850,1855,1860,1865,1870,1875,1880,1885,1890,1895,1900,1905,1910,1915,1920,1925,1930,1935,1940,1945,1950,1955,1960],"labelExpr":"datum.value % 20 === 0 ? format(datum.value, '.2f') : ''"}},
  "color":{"field":"k","type":"nominal","scale":{"domain":["up","down"],"range":["#2bb82b","#e02020"]},"legend":null}}},
{"data":{"name":"rings"},"mark":{"type":"point","shape":"circle","size":800,"filled":true,"fill":"#ff4d4d","fillOpacity":0.2,"stroke":"#ee2222","strokeWidth":1,"strokeOpacity":1},
 "encoding":{"x":{"field":"d","type":"temporal","title":null},"y":{"field":"p","type":"quantitative","title":null,"axis":{"orient":"right","values":[1670,1675,1680,1685,1690,1695,1700,1705,1710,1715,1720,1725,1730,1735,1740,1745,1750,1755,1760,1765,1770,1775,1780,1785,1790,1795,1800,1805,1810,1815,1820,1825,1830,1835,1840,1845,1850,1855,1860,1865,1870,1875,1880,1885,1890,1895,1900,1905,1910,1915,1920,1925,1930,1935,1940,1945,1950,1955,1960],"labelExpr":"datum.value % 20 === 0 ? format(datum.value, '.2f') : ''"}}}},
{"data":{"name":"circ"},"mark":{"type":"point","shape":"circle","size":55,"filled":true,"fill":"#ffffff","stroke":"#555","strokeWidth":0.6,"opacity":1},
 "encoding":{"x":{"field":"d","type":"temporal","title":null},"y":{"field":"p","type":"quantitative","title":null,"axis":{"orient":"right","values":[1670,1675,1680,1685,1690,1695,1700,1705,1710,1715,1720,1725,1730,1735,1740,1745,1750,1755,1760,1765,1770,1775,1780,1785,1790,1795,1800,1805,1810,1815,1820,1825,1830,1835,1840,1845,1850,1855,1860,1865,1870,1875,1880,1885,1890,1895,1900,1905,1910,1915,1920,1925,1930,1935,1940,1945,1950,1955,1960],"labelExpr":"datum.value % 20 === 0 ? format(datum.value, '.2f') : ''"}}}},
{"data":{"name":"circ"},"mark":{"type":"text","fontSize":4.5,"color":"#333","baseline":"middle","align":"center","font":"Liberation Sans"},
 "encoding":{"x":{"field":"d","type":"temporal","title":null},"y":{"field":"p","type":"quantitative","title":null,"axis":{"orient":"right","values":[1670,1675,1680,1685,1690,1695,1700,1705,1710,1715,1720,1725,1730,1735,1740,1745,1750,1755,1760,1765,1770,1775,1780,1785,1790,1795,1800,1805,1810,1815,1820,1825,1830,1835,1840,1845,1850,1855,1860,1865,1870,1875,1880,1885,1890,1895,1900,1905,1910,1915,1920,1925,1930,1935,1940,1945,1950,1955,1960],"labelExpr":"datum.value % 20 === 0 ? format(datum.value, '.2f') : ''"}},"text":{"field":"t"}}},
{"data":{"name":"plain"},"mark":{"type":"text","fontSize":9,"color":"#222","baseline":"middle","align":"center","font":"Liberation Sans","clip":true},
 "encoding":{"x":{"field":"d","type":"temporal","title":null},"y":{"field":"p","type":"quantitative","title":null,"axis":{"orient":"right","values":[1670,1675,1680,1685,1690,1695,1700,1705,1710,1715,1720,1725,1730,1735,1740,1745,1750,1755,1760,1765,1770,1775,1780,1785,1790,1795,1800,1805,1810,1815,1820,1825,1830,1835,1840,1845,1850,1855,1860,1865,1870,1875,1880,1885,1890,1895,1900,1905,1910,1915,1920,1925,1930,1935,1940,1945,1950,1955,1960],"labelExpr":"datum.value % 20 === 0 ? format(datum.value, '.2f') : ''"}},"text":{"field":"t"}}},
{"data":{"name":"bblabel"},"mark":{"type":"text","fontSize":4.8,"color":"#5aa8b0","baseline":"middle","align":"left","font":"Liberation Sans"},
 "encoding":{"x":{"field":"d","type":"temporal","title":null},"y":{"field":"p","type":"quantitative","title":null,"axis":{"orient":"right","values":[1670,1675,1680,1685,1690,1695,1700,1705,1710,1715,1720,1725,1730,1735,1740,1745,1750,1755,1760,1765,1770,1775,1780,1785,1790,1795,1800,1805,1810,1815,1820,1825,1830,1835,1840,1845,1850,1855,1860,1865,1870,1875,1880,1885,1890,1895,1900,1905,1910,1915,1920,1925,1930,1935,1940,1945,1950,1955,1960],"labelExpr":"datum.value % 20 === 0 ? format(datum.value, '.2f') : ''"}},"text":{"field":"t"}}},
{"data":{"name":"arrow"},"mark":{"type":"line","color":"#333","strokeWidth":0.7},
 "encoding":{"x":{"field":"d","type":"temporal","title":null},"y":{"field":"p","type":"quantitative","title":null,"axis":{"orient":"right","values":[1670,1675,1680,1685,1690,1695,1700,1705,1710,1715,1720,1725,1730,1735,1740,1745,1750,1755,1760,1765,1770,1775,1780,1785,1790,1795,1800,1805,1810,1815,1820,1825,1830,1835,1840,1845,1850,1855,1860,1865,1870,1875,1880,1885,1890,1895,1900,1905,1910,1915,1920,1925,1930,1935,1940,1945,1950,1955,1960],"labelExpr":"datum.value % 20 === 0 ? format(datum.value, '.2f') : ''"}}}},
{"data":{"name":"arrowhead"},"mark":{"type":"point","shape":"triangle-down","size":14,"filled":true,"color":"#333","opacity":1},
 "encoding":{"x":{"field":"d","type":"temporal","title":null},"y":{"field":"p","type":"quantitative","title":null,"axis":{"orient":"right","values":[1670,1675,1680,1685,1690,1695,1700,1705,1710,1715,1720,1725,1730,1735,1740,1745,1750,1755,1760,1765,1770,1775,1780,1785,1790,1795,1800,1805,1810,1815,1820,1825,1830,1835,1840,1845,1850,1855,1860,1865,1870,1875,1880,1885,1890,1895,1900,1905,1910,1915,1920,1925,1930,1935,1940,1945,1950,1955,1960],"labelExpr":"datum.value % 20 === 0 ? format(datum.value, '.2f') : ''"}}}},
{"data":{"name":"fib"},"mark":{"type":"point","shape":"M-2.06,-0.2H0V0.2H-2.06Z","size":1024,"filled":true,"fill":"#ffffff","stroke":"#e38b8b","strokeWidth":0.6,"opacity":1},
 "encoding":{"x":{"datum":{"year":2022,"month":3,"date":22,"hours":6,"utc":true},"type":"temporal","title":null},"y":{"field":"p","type":"quantitative","title":null,"axis":{"orient":"right","values":[1670,1675,1680,1685,1690,1695,1700,1705,1710,1715,1720,1725,1730,1735,1740,1745,1750,1755,1760,1765,1770,1775,1780,1785,1790,1795,1800,1805,1810,1815,1820,1825,1830,1835,1840,1845,1850,1855,1860,1865,1870,1875,1880,1885,1890,1895,1900,1905,1910,1915,1920,1925,1930,1935,1940,1945,1950,1955,1960],"labelExpr":"datum.value % 20 === 0 ? format(datum.value, '.2f') : ''"}}}},
{"data":{"name":"fib"},"mark":{"type":"text","fontSize":4.5,"color":"#222","baseline":"middle","align":"right","dx":-1.5,"font":"Liberation Sans"},
 "encoding":{"x":{"datum":{"year":2022,"month":3,"date":22,"hours":6,"utc":true},"type":"temporal","title":null},"y":{"field":"p","type":"quantitative","title":null,"axis":{"orient":"right","values":[1670,1675,1680,1685,1690,1695,1700,1705,1710,1715,1720,1725,1730,1735,1740,1745,1750,1755,1760,1765,1770,1775,1780,1785,1790,1795,1800,1805,1810,1815,1820,1825,1830,1835,1840,1845,1850,1855,1860,1865,1870,1875,1880,1885,1890,1895,1900,1905,1910,1915,1920,1925,1930,1935,1940,1945,1950,1955,1960],"labelExpr":"datum.value % 20 === 0 ? format(datum.value, '.2f') : ''"}},"text":{"field":"t"}}},
{"data":{"name":"tags"},"mark":{"type":"point","shape":"M0.1,-0.27H2V0.27H0.1Z","size":529,"filled":true,"strokeWidth":0.6,"opacity":1},
 "encoding":{"x":{"datum":{"year":2022,"month":3,"date":28,"utc":true},"type":"temporal","title":null},"y":{"field":"p","type":"quantitative","title":null,"axis":{"orient":"right","values":[1670,1675,1680,1685,1690,1695,1700,1705,1710,1715,1720,1725,1730,1735,1740,1745,1750,1755,1760,1765,1770,1775,1780,1785,1790,1795,1800,1805,1810,1815,1820,1825,1830,1835,1840,1845,1850,1855,1860,1865,1870,1875,1880,1885,1890,1895,1900,1905,1910,1915,1920,1925,1930,1935,1940,1945,1950,1955,1960],"labelExpr":"datum.value % 20 === 0 ? format(datum.value, '.2f') : ''"}},
  "fill":{"field":"k","type":"nominal","scale":{"domain":["teal","pink","white"],"range":["#cfe6e8","#f6d0d0","#ffffff"]},"legend":null},
  "stroke":{"field":"k","type":"nominal","scale":{"domain":["teal","pink","white"],"range":["#7fb4ba","#e39a9a","#888888"]},"legend":null}}},
{"data":{"name":"tags"},"mark":{"type":"text","fontSize":4.8,"color":"#222","baseline":"middle","align":"left","dx":2,"font":"Liberation Sans"},
 "encoding":{"x":{"datum":{"year":2022,"month":3,"date":28,"utc":true},"type":"temporal","title":null},"y":{"field":"p","type":"quantitative","title":null,"axis":{"orient":"right","values":[1670,1675,1680,1685,1690,1695,1700,1705,1710,1715,1720,1725,1730,1735,1740,1745,1750,1755,1760,1765,1770,1775,1780,1785,1790,1795,1800,1805,1810,1815,1820,1825,1830,1835,1840,1845,1850,1855,1860,1865,1870,1875,1880,1885,1890,1895,1900,1905,1910,1915,1920,1925,1930,1935,1940,1945,1950,1955,1960],"labelExpr":"datum.value % 20 === 0 ? format(datum.value, '.2f') : ''"}},"text":{"field":"t"}}}
]
}
